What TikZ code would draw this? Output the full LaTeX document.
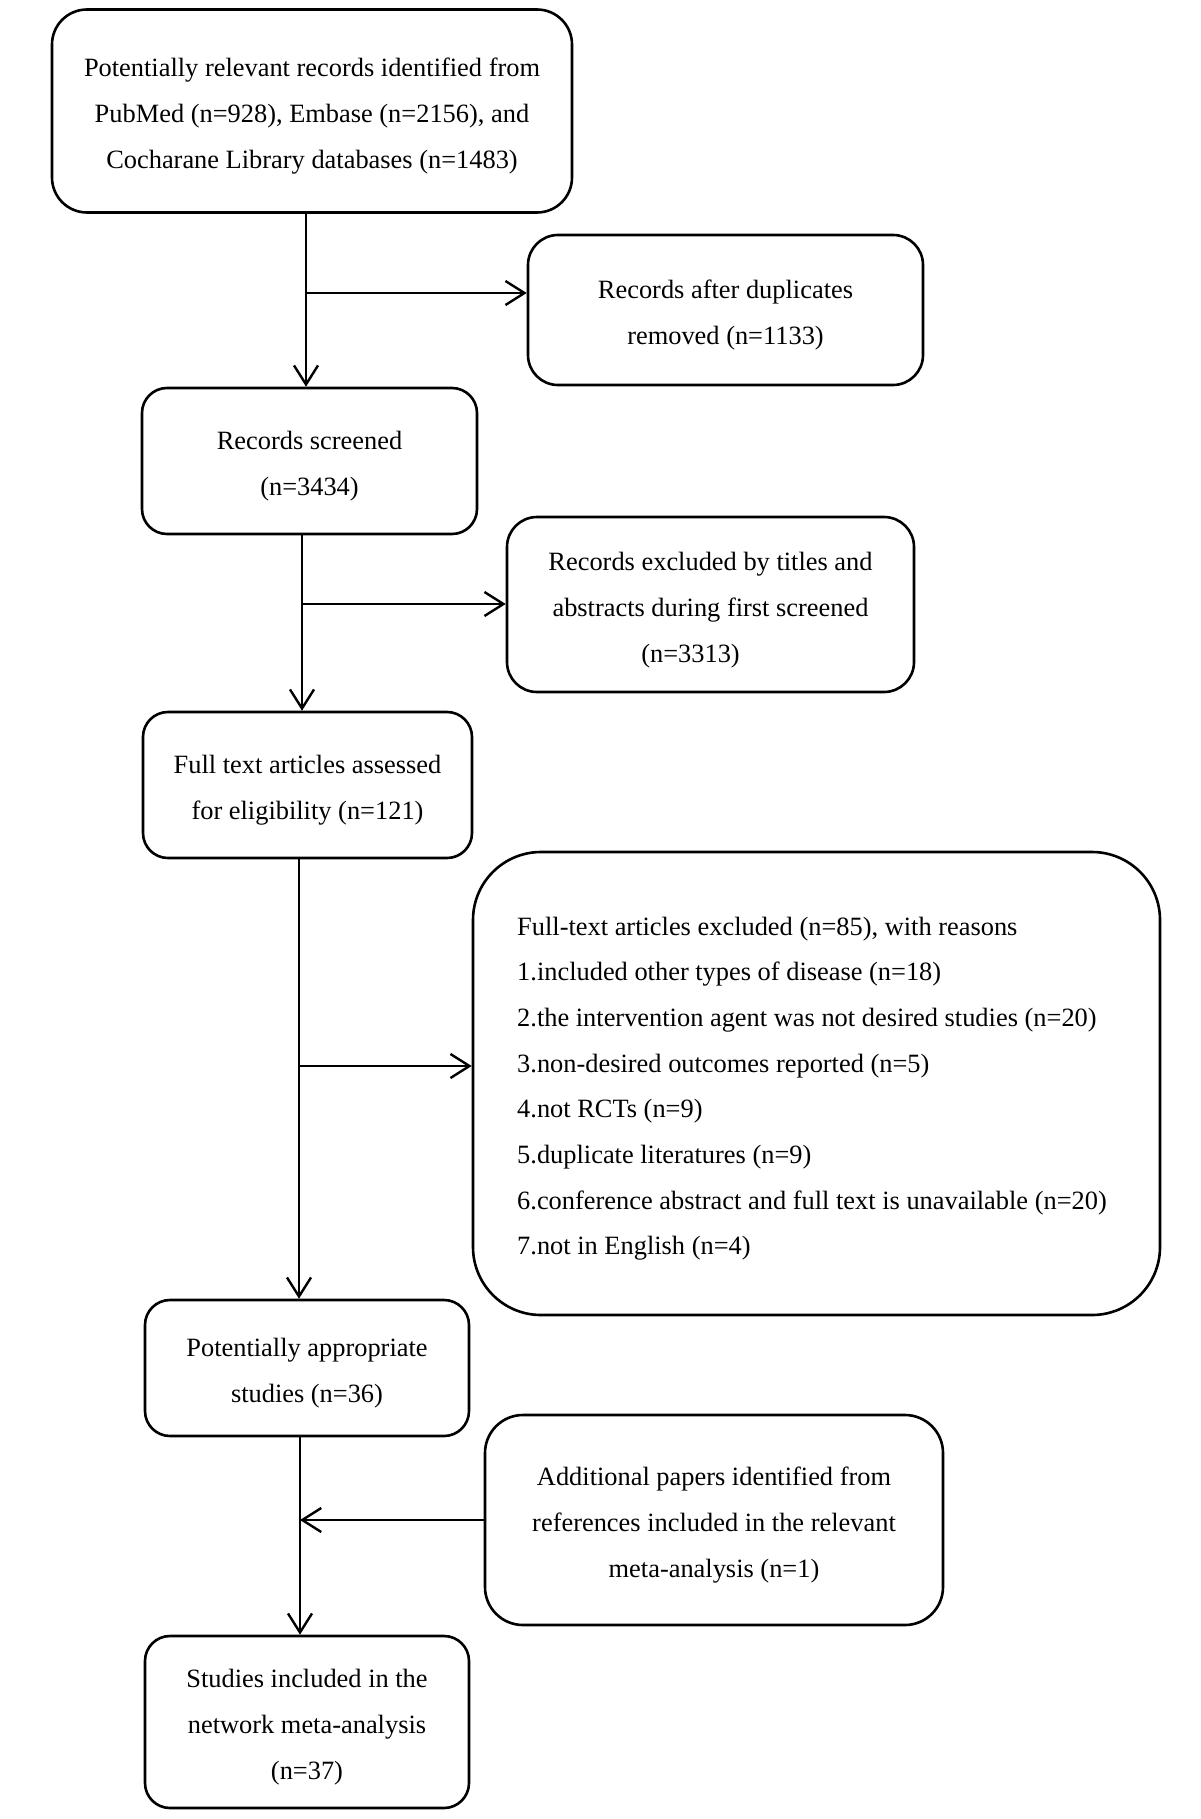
\documentclass[tikz,border=0pt]{standalone}
\usepackage{fontspec}
\setmainfont{Liberation Serif}
\usetikzlibrary{arrows.meta}
\newcommand{\tstr}{\rule{0pt}{33pt}}
\newcommand{\bstr}{\rule[-10pt]{0pt}{10pt}}
\tikzset{
  flowbox/.style={draw=black, line width=2.6pt, align=center, inner sep=0pt,
    font=\fontsize{26.4}{46}\selectfont, text=black},
  arr/.style={line width=2.4pt, -{Straight Barb[length=19pt,width=24pt,line width=2.4pt]}},
}
\begin{document}
\begin{tikzpicture}[x=1pt,y=-1pt]
\fill[white] (0,0) rectangle (1200,1819);
\useasboundingbox (0,0) rectangle (1200,1819);

\node[flowbox, rounded corners=35pt, minimum width=520pt, minimum height=203pt] (b1) at (312,111)
  {\tstr Potentially relevant records identified from\\PubMed (n=928), Embase (n=2156), and\\Cocharane Library databases (n=1483)\bstr};
\node[flowbox, rounded corners=30pt, minimum width=395pt, minimum height=150pt] (b2) at (725.5,310)
  {\tstr Records after duplicates\\removed (n=1133)\bstr};
\node[flowbox, rounded corners=25pt, minimum width=335pt, minimum height=146pt] (b3) at (309.5,461)
  {\tstr Records screened\\(n=3434)\bstr};
\node[flowbox, rounded corners=30pt, minimum width=407pt, minimum height=175pt] (b4) at (710.5,604.5)
  {\tstr Records excluded by titles and\\abstracts during first screened\\(n=3313)\bstr\hspace*{40pt}};
\node[flowbox, rounded corners=25pt, minimum width=329pt, minimum height=146pt] (b5) at (307.5,785)
  {\tstr Full text articles assessed\\for eligibility (n=121)\bstr};
\node[flowbox, rounded corners=68pt, align=left, inner xsep=0pt, minimum width=687pt, minimum height=463pt,
      font=\fontsize{26.4}{45.7}\selectfont] (b6) at (816.5,1083.5)
  {\tstr Full-text articles excluded (n=85), with reasons\\
   1.included other types of disease (n=18)\\
   2.the intervention agent was not desired studies (n=20)\\
   3.non-desired outcomes reported (n=5)\\
   4.not RCTs (n=9)\\
   5.duplicate literatures (n=9)\\
   6.conference abstract and full text is unavailable (n=20)\rule{9pt}{0pt}\\
   7.not in English (n=4)\bstr};
\node[flowbox, rounded corners=25pt, minimum width=324pt, minimum height=136pt] (b7) at (307,1368)
  {\tstr Potentially appropriate\\studies (n=36)\bstr};
\node[flowbox, rounded corners=38pt, minimum width=458pt, minimum height=210pt] (b8) at (714,1520)
  {\tstr Additional papers identified from\\references included in the relevant\\meta-analysis (n=1)\bstr};
\node[flowbox, rounded corners=25pt, minimum width=324pt, minimum height=172pt] (b9) at (307,1722)
  {\tstr Studies included in the\\network meta-analysis\\(n=37)\bstr};

\coordinate (j1) at (306,293);
\coordinate (j2) at (302,604);
\coordinate (j3) at (299,1066);
\coordinate (j4) at (300,1520);

\draw[arr] (j1 |- b1.south) -- (j1 |- b3.north);
\draw[arr] (j1) -- (j1 -| b2.west);
\draw[arr] (j2 |- b3.south) -- (j2 |- b5.north);
\draw[arr] (j2) -- (j2 -| b4.west);
\draw[arr] (j3 |- b5.south) -- (j3 |- b7.north);
\draw[arr] (j3) -- (j3 -| b6.west);
\draw[arr] (j4 |- b7.south) -- (j4 |- b9.north);
\draw[arr] (b8.west) -- (b8.west -| j4);
\end{tikzpicture}
\end{document}
